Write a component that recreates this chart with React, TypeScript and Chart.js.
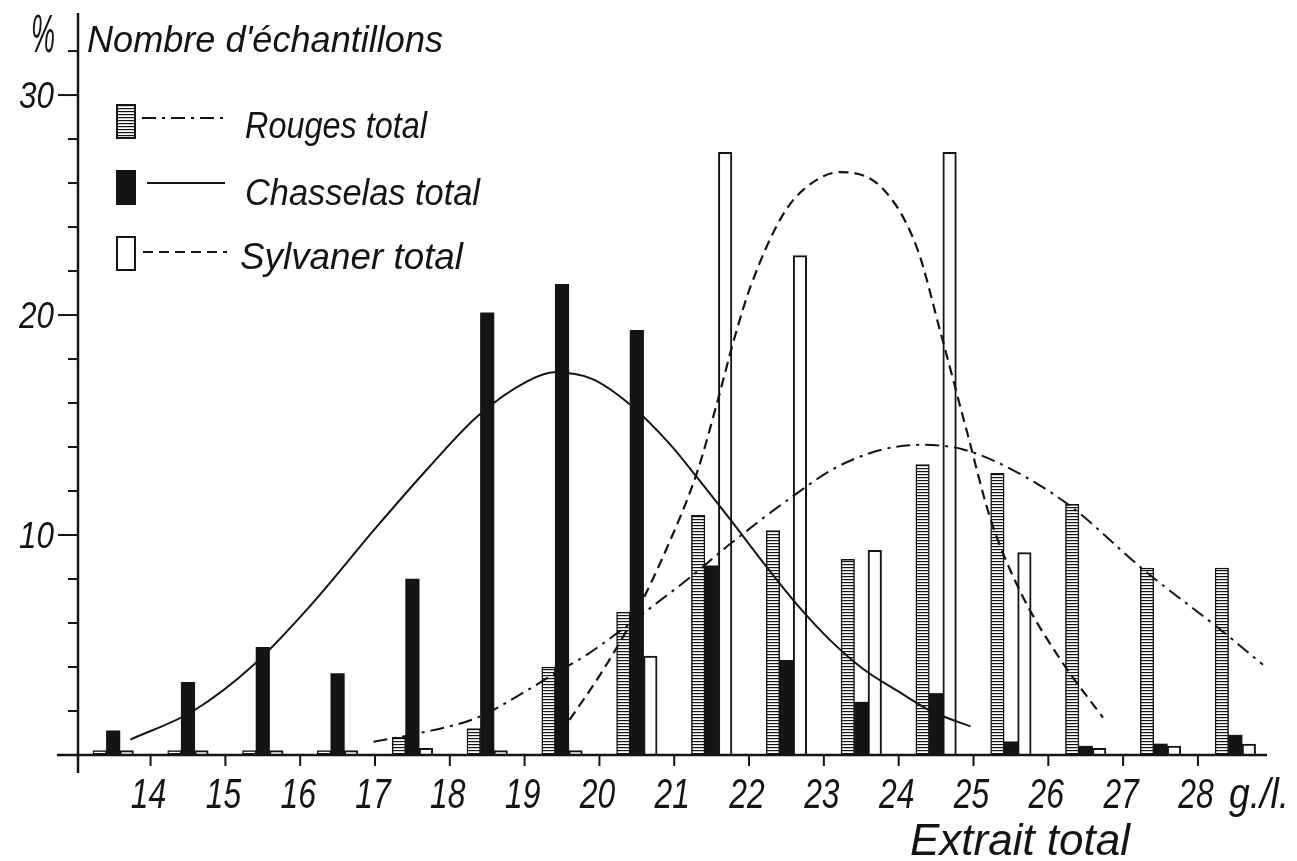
import React, { useEffect, useRef } from "react";
import { Chart, registerables } from "chart.js";

Chart.register(...registerables);

const FONT = '"Liberation Sans", "DejaVu Sans", sans-serif';
const INK = "#141414";

// ---- data ----
const groupCenters = [13.5, 14.5, 15.5, 16.5, 17.5, 18.5, 19.5, 20.5, 21.5, 22.5, 23.5, 24.5, 25.5, 26.5, 27.5, 28.5];
const rougesValues = [0.2, 0.2, 0.2, 0.2, 0.8, 1.2, 4.0, 6.5, 10.9, 10.2, 8.9, 13.2, 12.8, 11.4, 8.5, 8.5];
const chasselasValues = [1.1, 3.3, 4.9, 3.7, 8.0, 20.1, 21.4, 19.3, 8.6, 4.3, 2.4, 2.8, 0.6, 0.4, 0.5, 0.9];
const sylvanerValues = [0.2, 0.2, 0.2, 0.2, 0.3, 0.2, 0.2, 4.5, 27.4, 22.7, 9.3, 27.4, 9.2, 0.3, 0.4, 0.5];

const rougesCurveX = [16.98, 17.6, 18.37, 19.04, 19.4, 19.85, 20.3, 20.59, 21.22, 21.75, 22.56, 23.18, 23.8, 24.33, 24.85, 25.5, 26.3, 27.28, 28.3, 28.87];
const rougesCurveY = [0.6, 1.0, 1.7, 2.95, 3.7, 4.6, 5.7, 6.45, 8.1, 9.6, 11.7, 13.1, 13.9, 14.1, 13.9, 13.0, 11.3, 8.4, 5.7, 4.1];

const chasselasCurveX = [13.73, 14.57, 15.38, 16.14, 17.03, 17.7, 18.37, 19.04, 19.4, 19.9, 20.42, 20.95, 21.31, 21.75, 22.2, 22.65, 23.09, 23.53, 23.99, 24.43, 24.96];
const chasselasCurveY = [0.7, 2.0, 4.1, 6.8, 10.4, 13.0, 15.4, 17.0, 17.4, 17.1, 15.9, 14.1, 12.6, 10.7, 8.7, 6.8, 5.2, 3.9, 2.9, 2.0, 1.3];

const sylvanerCurveX = [19.6, 20.0, 20.45, 20.9, 21.31, 21.58, 21.8, 22.02, 22.46, 22.8, 23.22, 23.8, 24.25, 24.56, 24.92, 25.23, 25.63, 26.17, 26.73];
const sylvanerCurveY = [1.6, 3.6, 6.2, 9.4, 12.9, 16.1, 18.9, 21.3, 24.6, 25.9, 26.5, 25.7, 23.0, 19.2, 14.6, 10.7, 7.4, 4.3, 1.7];

const seriesLabels = ["Rouges total", "Chasselas total", "Sylvaner total"];
const xTickValues = [14, 15, 16, 17, 18, 19, 20, 21, 22, 23, 24, 25, 26, 27, 28];
const yTickValues = [2, 4, 6, 8, 10, 12, 14, 16, 18, 20, 22, 24, 26, 28, 30, 32];
const yLabelValues = [10, 20, 30];
const xUnitLabel = "g./l.";
const xTitle = "Extrait total";
const yUnit = "%";
const yTitle = "Nombre d'échantillons";

const X_MIN = 13.03;
const X_MAX = 28.95;
const Y_MAX = 33.73;

const DASH_ROUGES = [14, 6, 3, 6];
const DASH_SYLVANER = [10, 6];

function makeStripes(): CanvasPattern | string {
  const c = document.createElement("canvas");
  c.width = 4;
  c.height = 3;
  const g = c.getContext("2d");
  if (!g) return "#888";
  g.fillStyle = "#ffffff";
  g.fillRect(0, 0, 4, 3);
  g.fillStyle = INK;
  g.fillRect(0, 0, 4, 1.2);
  const ctx = document.createElement("canvas").getContext("2d");
  return (ctx && ctx.createPattern(c, "repeat")) || "#888";
}

function toPoints(xs: number[], ys: number[]) {
  return xs.map((x, i) => ({ x, y: ys[i] }));
}

function drawText(
  ctx: CanvasRenderingContext2D,
  text: string,
  x: number,
  y: number,
  size: number,
  sx: number,
  align: CanvasTextAlign
) {
  ctx.save();
  ctx.translate(x, y);
  ctx.scale(sx, 1);
  ctx.font = `italic ${size}px ${FONT}`;
  ctx.textAlign = align;
  ctx.textBaseline = "alphabetic";
  ctx.fillStyle = INK;
  ctx.fillText(text, 0, 0);
  ctx.restore();
}

function drawFit(ctx: CanvasRenderingContext2D, text: string, x: number, y: number, size: number, width: number) {
  ctx.save();
  ctx.font = `italic ${size}px ${FONT}`;
  const w = ctx.measureText(text).width || width;
  ctx.restore();
  drawText(ctx, text, x, y, size, width / w, "left");
}

export default function App() {
  const ref = useRef<HTMLCanvasElement | null>(null);

  useEffect(() => {
    document.body.style.margin = "0";
    document.body.style.background = "#ffffff";
    const canvas = ref.current;
    if (!canvas) return;
    const stripes = makeStripes();

    const decor = {
      id: "decor",
      afterDraw(chart: any) {
        const ctx: CanvasRenderingContext2D = chart.ctx;
        const xs = chart.scales.x;
        const ys = chart.scales.y;
        const x0 = chart.chartArea.left;
        const y0 = ys.getPixelForValue(0);
        ctx.save();
        ctx.strokeStyle = INK;
        ctx.fillStyle = INK;
        ctx.lineWidth = 2.5;
        ctx.setLineDash([]);
        // axes
        ctx.beginPath();
        ctx.moveTo(x0 - 21, y0);
        ctx.lineTo(xs.getPixelForValue(X_MAX) - 2, y0);
        ctx.stroke();
        ctx.beginPath();
        ctx.moveTo(x0, 13);
        ctx.lineTo(x0, y0 + 18);
        ctx.stroke();
        ctx.lineWidth = 2;
        xs.ticks.forEach((t: any) => {
          const px = xs.getPixelForValue(t.value);
          ctx.beginPath();
          ctx.moveTo(px, y0);
          ctx.lineTo(px, y0 + 11);
          ctx.stroke();
          drawText(ctx, String(t.value), px - 2, 808, 43, 0.74, "center");
        });
        ys.ticks.forEach((t: any) => {
          const py = ys.getPixelForValue(t.value);
          const major = yLabelValues.includes(t.value);
          const len = major ? 20 : 10;
          ctx.beginPath();
          ctx.moveTo(x0 - len, py);
          ctx.lineTo(x0, py);
          ctx.stroke();
          if (major) drawText(ctx, String(t.value), 54, py + 13, 37, 0.85, "right");
        });

        // titles
        drawText(ctx, yUnit, 31, 52, 54, 0.5, "left");
        drawFit(ctx, yTitle, 87, 52, 37, 356);
        drawFit(ctx, xUnitLabel, 1229, 808, 42, 60);
        drawFit(ctx, xTitle, 910, 855, 44, 220);

        // legend
        const rows = [
          { top: 105, lineY: 118, x1: 142, x2: 227, textX: 245, base: 138, w: 182 },
          { top: 171, lineY: 183, x1: 147, x2: 225, textX: 245, base: 205, w: 235 },
          { top: 237, lineY: 252, x1: 143, x2: 227, textX: 240, base: 269, w: 223 },
        ];
        rows.forEach((r, i) => {
          const bx = 117, bw = 18, bh = 33;
          if (i === 0) ctx.fillStyle = stripes as any;
          else if (i === 1) ctx.fillStyle = INK;
          else ctx.fillStyle = "#ffffff";
          ctx.fillRect(bx, r.top, bw, bh);
          ctx.lineWidth = 2;
          ctx.strokeStyle = INK;
          ctx.setLineDash([]);
          ctx.strokeRect(bx, r.top, bw, bh);
          ctx.beginPath();
          ctx.setLineDash(i === 0 ? DASH_ROUGES : i === 2 ? DASH_SYLVANER : []);
          ctx.moveTo(r.x1, r.lineY);
          ctx.lineTo(r.x2, r.lineY);
          ctx.stroke();
          ctx.setLineDash([]);
          drawFit(ctx, seriesLabels[i], r.textX, r.base, 36, r.w);
        });
        ctx.restore();
      },
    };

    const barCommon = {
      type: "bar" as const,
      barThickness: 13.5,
      borderColor: INK,
      order: 2,
    };

    const lineCommon = {
      type: "line" as const,
      borderColor: INK,
      pointRadius: 0,
      cubicInterpolationMode: "monotone",
      fill: false,
      order: 0,
    };

    const chart = new Chart(canvas, {
      type: "bar",
      data: {
        datasets: [
          {
            ...barCommon,
            label: seriesLabels[0],
            data: toPoints(groupCenters, rougesValues),
            backgroundColor: stripes as any,
            borderWidth: { top: 1.5, left: 1.5, right: 1.5, bottom: 0 },
          },
          {
            ...barCommon,
            label: seriesLabels[1],
            data: toPoints(groupCenters, chasselasValues),
            backgroundColor: INK,
            borderWidth: 0,
          },
          {
            ...barCommon,
            label: seriesLabels[2],
            data: toPoints(groupCenters, sylvanerValues),
            backgroundColor: "#ffffff",
            borderWidth: { top: 2, left: 2, right: 2, bottom: 0 },
          },
          {
            ...lineCommon,
            label: seriesLabels[0],
            data: toPoints(rougesCurveX, rougesCurveY),
            borderWidth: 2,
            borderDash: DASH_ROUGES,
          } as any,
          {
            ...lineCommon,
            label: seriesLabels[1],
            data: toPoints(chasselasCurveX, chasselasCurveY),
            borderWidth: 2,
          } as any,
          {
            ...lineCommon,
            label: seriesLabels[2],
            data: toPoints(sylvanerCurveX, sylvanerCurveY),
            borderWidth: 2.2,
            borderDash: DASH_SYLVANER,
          } as any,
        ],
      },
      options: {
        responsive: false,
        animation: false,
        devicePixelRatio: 1,
        layout: { padding: { top: 13, right: 28, left: 0, bottom: 0 } },
        plugins: {
          legend: { display: false },
          tooltip: { enabled: false },
          title: { display: false },
        },
        scales: {
          x: {
            type: "linear",
            min: X_MIN,
            max: X_MAX,
            offset: false,
            grid: { display: false, drawTicks: false, offset: false },
            border: { display: false },
            afterBuildTicks: (scale: any) => {
              scale.ticks = xTickValues.map((v) => ({ value: v }));
            },
            afterFit: (scale: any) => {
              scale.height = 106;
              scale.paddingLeft = 0;
              scale.paddingRight = 0;
            },
            ticks: { display: false },
          },
          y: {
            type: "linear",
            min: 0,
            max: Y_MAX,
            grid: { display: false, drawTicks: false },
            border: { display: false },
            afterBuildTicks: (scale: any) => {
              scale.ticks = yTickValues.map((v) => ({ value: v }));
            },
            afterFit: (scale: any) => {
              scale.width = 78;
              scale.paddingTop = 0;
              scale.paddingBottom = 0;
            },
            ticks: { display: false },
          },
        },
      },
      plugins: [decor],
    } as any);

    return () => {
      chart.destroy();
    };
  }, []);

  return (
    <div style={{ width: 1297, height: 861, position: "relative", background: "#fff" }}>
      <canvas ref={ref} width={1297} height={861} style={{ display: "block" }} />
    </div>
  );
}
